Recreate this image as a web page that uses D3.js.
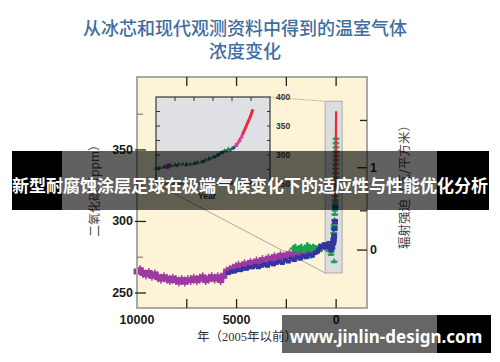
<!DOCTYPE html>
<html>
<head>
<meta charset="utf-8">
<script src="https://cdn.jsdelivr.net/npm/d3@7"></script>
<style>
  body { margin: 0; background: #fff; }
  svg { display: block; }
</style>
</head>
<body>
<svg id="chart" width="500" height="362"></svg>
<script>
// texts
const titleLines = ['从冰芯和现代观测资料中得到的温室气体', '浓度变化'];
const leftLabel = '二氧化碳（ppm）';
const rightLabel = '辐射强迫（瓦/平方米）';
const xLabel = '年（2005年以前）';
const bannerText = '新型耐腐蚀涂层足球在极端气候变化下的适应性与性能优化分析';
const watermarkText = 'www.jinlin-design.com';

// ticks
const xTicks = [10000, 5000, 0];
const xMinorTicks = [7500, 2500];
const yTicks = [250, 300, 350];
const yMinorTicks = [275, 325, 375];
const forcingTicks = [0, 1];
const forcingMinorTicks = [0.5, 1.5];
const insetYTicks = [250, 300, 350, 400];
const insetYMinor = [275, 300, 325, 350, 375];
const insetXTicks = [1800, 1850, 1900, 1950, 2000];

// main panel: [years before 2005, ppm]
const purpleCore = [
  [10000, 265], [9850, 266], [9700, 264], [9550, 263], [9400, 264], [9250, 262],
  [9100, 263], [8950, 261], [8800, 260], [8650, 261], [8500, 260], [8350, 259],
  [8200, 260], [8050, 259], [7900, 258], [7750, 259], [7600, 258], [7450, 259],
  [7300, 259], [7150, 260], [7000, 259], [6850, 260], [6700, 261], [6550, 259],
  [6400, 260], [6250, 261], [6100, 260], [5950, 261], [5800, 259], [5650, 262],
  [5500, 265], [5350, 266], [5200, 267], [5050, 268], [4900, 269], [4750, 268],
  [4600, 270], [4450, 269], [4300, 271], [4150, 270], [4000, 272], [3850, 271],
  [3700, 273], [3550, 272], [3400, 274], [3250, 273], [3100, 275], [2950, 274],
  [2800, 276], [2650, 275], [2500, 276], [2350, 277], [2200, 276], [2050, 278],
  [1900, 277], [1750, 278], [1600, 277], [1450, 279], [1300, 280], [1150, 279],
  [1000, 280], [850, 281]
];
const blueCore = [
  [5400, 264], [5250, 265], [5100, 265], [4950, 266], [4800, 266], [4650, 267],
  [4500, 267], [4350, 268], [4200, 268], [4050, 269], [3900, 268], [3750, 269],
  [3600, 270], [3450, 269], [3300, 271], [3150, 270], [3000, 271], [2850, 272],
  [2700, 271], [2550, 273], [2400, 272], [2250, 274], [2100, 273], [1950, 275],
  [1800, 274], [1650, 276], [1500, 275], [1350, 277], [1200, 276], [1050, 278],
  [950, 279], [850, 281], [750, 283], [650, 282], [600, 284], [550, 283],
  [500, 282], [450, 284], [400, 283], [350, 285], [300, 282], [250, 281]
];
const greenCore = [
  [2150, 281], [2050, 282], [1950, 280], [1850, 281], [1750, 282], [1650, 280],
  [1550, 281], [1450, 283], [1350, 282], [1250, 281], [1150, 282], [1050, 281],
  [950, 280], [850, 282], [750, 281], [650, 283], [550, 282], [450, 281]
];
const cyanCore = [[1300, 275], [1250, 276]];
const greenColumn = [
  [255, 277], [200, 281], [155, 285], [130, 288], [120, 292], [110, 295],
  [95, 297], [90, 298], [80, 301], [70, 305], [62, 308], [55, 311],
  [50, 313], [45, 315], [40, 318], [35, 322], [32, 325], [28, 328],
  [25, 331], [22, 334], [20, 337], [18, 340], [16, 343], [14, 346],
  [12, 349], [10, 352], [8, 355], [6, 358], [100, 272]
];
const blueColumn = [
  [250, 280], [200, 283], [150, 285], [120, 287], [100, 290], [80, 295],
  [60, 300], [40, 310]
];
const maunaLoa = [
  [47, 315], [45, 317], [40, 320], [35, 326], [30, 331], [25, 339],
  [20, 346], [15, 354], [10, 361], [5, 369], [0, 377]
];
const zoomYears = [550, -300];
const zoomPpm = [264, 384];

// inset: [year AD, ppm]
const insetGreen = [
  [1750, 277], [1760, 278], [1770, 279], [1780, 280], [1790, 281], [1800, 283],
  [1810, 284], [1820, 284], [1830, 284], [1840, 284], [1850, 285], [1860, 287],
  [1870, 288], [1880, 291], [1890, 294], [1900, 296], [1910, 299], [1920, 303],
  [1930, 307], [1940, 310], [1950, 311], [1960, 316], [1970, 325], [1975, 331]
];
const insetBlue = [
  [1755, 277], [1780, 279], [1805, 282], [1830, 283], [1855, 286], [1875, 289],
  [1890, 293], [1905, 297], [1915, 301], [1925, 305], [1935, 307], [1945, 309],
  [1955, 313], [1962, 318]
];
const insetPurple = [[1778, 280], [1784, 282]];
const insetPink = [[1958, 315], [1965, 320], [1970, 326], [1975, 331], [1980, 339]];
const insetRed = [
  [1978, 336], [1980, 339], [1985, 346], [1990, 354], [1995, 361], [2000, 369], [2005, 379]
];

const svg = d3.select('#chart');
const tickFont = '"Liberation Sans", Arial, sans-serif';
const cjkFont = '"Noto Sans CJK SC", sans-serif';

// scales
const x = d3.scaleLinear().domain([10000, -1550]).range([137, 367]);
const y = d3.scaleLinear().domain([239.5, 401]).range([308, 77]);
const forcingY = (f) => y(280 * Math.exp(f / 5.35));
const xi = d3.scaleLinear().domain([1750, 2050]).range([156, 270]);
const yi = d3.scaleLinear().domain([250, 400]).range([184, 97]);

svg.append('rect').attr('width', 500).attr('height', 362).attr('fill', '#fff');

//Title
svg.selectAll('.title')
  .data(titleLines)
  .join('text')
  .attr('class', 'title')
  .attr('x', 245)
  .attr('y', (d, i) => 27 + i * 23)
  .attr('text-anchor', 'middle')
  .attr('dominant-baseline', 'central')
  .style('font-family', cjkFont)
  .style('font-size', '18px')
  .style('font-weight', 500)
  .attr('fill', '#3f6e9f')
  .text((d) => d);

//Plot frame
svg.append('rect')
  .attr('x', x.range()[0]).attr('y', y.range()[1])
  .attr('width', x.range()[1] - x.range()[0])
  .attr('height', y.range()[0] - y.range()[1])
  .attr('fill', '#fdf3d6');

//Gray zoom box
const boxX0 = x(zoomYears[0]), boxX1 = x(zoomYears[1]);
const boxY0 = y(zoomPpm[1]), boxY1 = y(zoomPpm[0]);
svg.append('rect')
  .attr('x', boxX0).attr('y', boxY0)
  .attr('width', boxX1 - boxX0).attr('height', boxY1 - boxY0)
  .attr('fill', '#dcdde1').attr('stroke', '#b4b4b4').attr('stroke-width', 1.2);

//Connecting lines
svg.append('line')
  .attr('x1', xi.range()[0]).attr('y1', yi.range()[0])
  .attr('x2', boxX0).attr('y2', boxY1)
  .attr('stroke', '#a8a8a0').attr('stroke-width', 1);
svg.append('line')
  .attr('x1', xi.range()[1]).attr('y1', yi(400))
  .attr('x2', boxX0).attr('y2', boxY0)
  .attr('stroke', '#a8a8a0').attr('stroke-width', 1)
  .attr('stroke-dasharray', '1.5,1');

//Inset
svg.append('rect')
  .attr('x', xi.range()[0]).attr('y', yi.range()[1])
  .attr('width', xi.range()[1] - xi.range()[0])
  .attr('height', yi.range()[0] - yi.range()[1])
  .attr('fill', '#dfe0e3').attr('stroke', '#444').attr('stroke-width', 1.3);

svg.selectAll('.iytick')
  .data(insetYMinor)
  .join('line')
  .attr('class', 'iytick')
  .attr('x1', xi.range()[0]).attr('x2', xi.range()[0] + 4)
  .attr('y1', (d) => yi(d)).attr('y2', (d) => yi(d))
  .attr('stroke', '#333').attr('stroke-width', 1);

svg.selectAll('.iytickr')
  .data(insetYMinor)
  .join('line')
  .attr('class', 'iytickr')
  .attr('x1', xi.range()[1]).attr('x2', xi.range()[1] - 3)
  .attr('y1', (d) => yi(d)).attr('y2', (d) => yi(d))
  .attr('stroke', '#333').attr('stroke-width', 1);

svg.selectAll('.ixtick')
  .data(insetXTicks)
  .join('line')
  .attr('class', 'ixtick')
  .attr('x1', (d) => xi(d)).attr('x2', (d) => xi(d))
  .attr('y1', yi.range()[1]).attr('y2', yi.range()[1] + 4)
  .attr('stroke', '#333').attr('stroke-width', 1);

svg.selectAll('.ixtickb')
  .data(insetXTicks)
  .join('line')
  .attr('class', 'ixtickb')
  .attr('x1', (d) => xi(d)).attr('x2', (d) => xi(d))
  .attr('y1', yi.range()[0]).attr('y2', yi.range()[0] - 4)
  .attr('stroke', '#333').attr('stroke-width', 1);

svg.selectAll('.iylabel')
  .data(insetYTicks)
  .join('text')
  .attr('class', 'iylabel')
  .attr('x', xi.range()[1] + 6)
  .attr('y', (d) => yi(d))
  .attr('dominant-baseline', 'central')
  .style('font-family', tickFont)
  .style('font-size', '8.5px')
  .style('font-weight', 'bold')
  .attr('fill', '#333')
  .text((d) => d);

svg.append('text')
  .attr('x', 207).attr('y', 196)
  .attr('text-anchor', 'middle')
  .attr('dominant-baseline', 'central')
  .style('font-family', tickFont)
  .style('font-size', '8.5px')
  .style('font-weight', 'bold')
  .attr('fill', '#333')
  .text('Year');

const insetLine = d3.line().x((d) => xi(d[0])).y((d) => yi(d[1]));

svg.selectAll('.iblue')
  .data(insetBlue)
  .join('rect')
  .attr('class', 'iblue')
  .attr('x', (d) => xi(d[0]) - 1.5).attr('y', (d) => yi(d[1]) - 1.5)
  .attr('width', 3).attr('height', 3)
  .attr('fill', '#34349a');

svg.selectAll('.igreen')
  .data(insetGreen)
  .join('path')
  .attr('class', 'igreen')
  .attr('transform', (d) => `translate(${xi(d[0])},${yi(d[1])})`)
  .attr('d', d3.symbol(d3.symbolTriangle).size(9))
  .attr('fill', '#168c3e');

svg.selectAll('.ipurple')
  .data(insetPurple)
  .join('rect')
  .attr('class', 'ipurple')
  .attr('x', (d) => xi(d[0]) - 2).attr('y', (d) => yi(d[1]) - 2)
  .attr('width', 4).attr('height', 4)
  .attr('fill', '#8a3a9c');

svg.append('path')
  .datum(insetPink)
  .attr('d', insetLine)
  .attr('fill', 'none').attr('stroke', '#f03a9c').attr('stroke-width', 3);

svg.append('path')
  .datum(insetRed)
  .attr('d', insetLine)
  .attr('fill', 'none').attr('stroke', '#ea2a48').attr('stroke-width', 3);

//Main data
svg.selectAll('.purpleErr')
  .data(purpleCore)
  .join('line')
  .attr('class', 'purpleErr')
  .attr('x1', (d) => x(d[0])).attr('x2', (d) => x(d[0]))
  .attr('y1', (d) => y(d[1] + 3.5)).attr('y2', (d) => y(d[1] - 3.5))
  .attr('stroke', '#a044a8').attr('stroke-width', 1.5);

svg.selectAll('.purple')
  .data(purpleCore)
  .join('rect')
  .attr('class', 'purple')
  .attr('x', (d) => x(d[0]) - 3.5).attr('y', (d) => y(d[1]) - 3)
  .attr('width', 7).attr('height', 6)
  .attr('fill', '#9c3aa2');

svg.selectAll('.green')
  .data(greenCore)
  .join('path')
  .attr('class', 'green')
  .attr('transform', (d) => `translate(${x(d[0])},${y(d[1])})`)
  .attr('d', d3.symbol(d3.symbolCross).size(28))
  .attr('fill', '#1aa34e');

svg.selectAll('.cyan')
  .data(cyanCore)
  .join('rect')
  .attr('class', 'cyan')
  .attr('x', (d) => x(d[0]) - 2).attr('y', (d) => y(d[1]) - 1.5)
  .attr('width', 4).attr('height', 3)
  .attr('fill', '#2ab4f0');

svg.selectAll('.blueErr')
  .data(blueCore)
  .join('line')
  .attr('class', 'blueErr')
  .attr('x1', (d) => x(d[0]) - 3).attr('x2', (d) => x(d[0]) + 3)
  .attr('y1', (d) => y(d[1])).attr('y2', (d) => y(d[1]))
  .attr('stroke', '#3a3aa6').attr('stroke-width', 1.2);

svg.selectAll('.blue')
  .data(blueCore)
  .join('rect')
  .attr('class', 'blue')
  .attr('x', (d) => x(d[0]) - 2.5).attr('y', (d) => y(d[1]) - 2)
  .attr('width', 5).attr('height', 4)
  .attr('fill', '#3434a0');

svg.selectAll('.greenColErr')
  .data(greenColumn)
  .join('line')
  .attr('class', 'greenColErr')
  .attr('x1', (d) => x(d[0]) - 3.5).attr('x2', (d) => x(d[0]) + 3.5)
  .attr('y1', (d) => y(d[1])).attr('y2', (d) => y(d[1]))
  .attr('stroke', '#1aa34e').attr('stroke-width', 1.5);

svg.selectAll('.greenCol')
  .data(greenColumn)
  .join('path')
  .attr('class', 'greenCol')
  .attr('transform', (d) => `translate(${x(d[0])},${y(d[1])})`)
  .attr('d', d3.symbol(d3.symbolTriangle).size(16))
  .attr('fill', '#1aa34e');

svg.selectAll('.blueCol')
  .data(blueColumn)
  .join('rect')
  .attr('class', 'blueCol')
  .attr('x', (d) => x(d[0]) - 3).attr('y', (d) => y(d[1]) - 2.5)
  .attr('width', 6).attr('height', 5)
  .attr('fill', '#3434a0');

svg.append('path')
  .datum(maunaLoa)
  .attr('d', d3.line().x((d) => x(d[0])).y((d) => y(d[1])))
  .attr('fill', 'none').attr('stroke', '#e8283c').attr('stroke-width', 2.2);

//Frame border
svg.append('rect')
  .attr('x', x.range()[0]).attr('y', y.range()[1])
  .attr('width', x.range()[1] - x.range()[0])
  .attr('height', y.range()[0] - y.range()[1])
  .attr('fill', 'none').attr('stroke', '#a8a8a8').attr('stroke-width', 2);

//X ticks (top and bottom, inward)
const allXTicks = xMinorTicks.concat(xTicks.filter((d) => d !== 10000));
svg.selectAll('.xtickb')
  .data(allXTicks)
  .join('line')
  .attr('class', 'xtickb')
  .attr('x1', (d) => x(d)).attr('x2', (d) => x(d))
  .attr('y1', y.range()[0]).attr('y2', y.range()[0] - 9)
  .attr('stroke', '#222').attr('stroke-width', 1.3);

svg.selectAll('.xtickt')
  .data(allXTicks)
  .join('line')
  .attr('class', 'xtickt')
  .attr('x1', (d) => x(d)).attr('x2', (d) => x(d))
  .attr('y1', y.range()[1]).attr('y2', y.range()[1] + 9)
  .attr('stroke', '#222').attr('stroke-width', 1.3);

svg.selectAll('.xlabel')
  .data(xTicks)
  .join('text')
  .attr('class', 'xlabel')
  .attr('x', (d) => x(d))
  .attr('y', 324)
  .attr('text-anchor', 'middle')
  .style('font-family', tickFont)
  .style('font-size', '12.5px')
  .style('font-weight', 'bold')
  .attr('fill', '#1a1a1a')
  .text((d) => d);

//Left ticks
svg.selectAll('.ytick')
  .data(yTicks)
  .join('line')
  .attr('class', 'ytick')
  .attr('x1', x.range()[0] - 2).attr('x2', x.range()[0] + 9)
  .attr('y1', (d) => y(d)).attr('y2', (d) => y(d))
  .attr('stroke', '#222').attr('stroke-width', 1.3);

svg.selectAll('.ytickm')
  .data(yMinorTicks)
  .join('line')
  .attr('class', 'ytickm')
  .attr('x1', x.range()[0]).attr('x2', x.range()[0] + 6)
  .attr('y1', (d) => y(d)).attr('y2', (d) => y(d))
  .attr('stroke', '#888').attr('stroke-width', 1.3);

svg.selectAll('.ylabel')
  .data(yTicks)
  .join('text')
  .attr('class', 'ylabel')
  .attr('x', 133)
  .attr('y', (d) => y(d))
  .attr('text-anchor', 'end')
  .attr('dominant-baseline', 'central')
  .style('font-family', tickFont)
  .style('font-size', '12.5px')
  .style('font-weight', 'bold')
  .attr('fill', '#1a1a1a')
  .text((d) => d);

//Right ticks (radiative forcing)
svg.selectAll('.rtick')
  .data(forcingTicks)
  .join('line')
  .attr('class', 'rtick')
  .attr('x1', x.range()[1] - 10).attr('x2', x.range()[1])
  .attr('y1', (d) => forcingY(d)).attr('y2', (d) => forcingY(d))
  .attr('stroke', '#222').attr('stroke-width', 1.3);

svg.selectAll('.rtickm')
  .data(forcingMinorTicks)
  .join('line')
  .attr('class', 'rtickm')
  .attr('x1', x.range()[1] - 7).attr('x2', x.range()[1])
  .attr('y1', (d) => forcingY(d)).attr('y2', (d) => forcingY(d))
  .attr('stroke', '#222').attr('stroke-width', 1.3);

svg.selectAll('.rlabel')
  .data(forcingTicks)
  .join('text')
  .attr('class', 'rlabel')
  .attr('x', 370)
  .attr('y', (d) => forcingY(d))
  .attr('dominant-baseline', 'central')
  .style('font-family', tickFont)
  .style('font-size', '12.5px')
  .style('font-weight', 'bold')
  .attr('fill', '#1a1a1a')
  .text((d) => d);

//Axis titles
svg.append('text')
  .attr('transform', 'translate(93,188) rotate(-90)')
  .attr('text-anchor', 'middle')
  .attr('dominant-baseline', 'central')
  .style('font-family', cjkFont)
  .style('font-size', '12px')
  .attr('fill', '#444')
  .text(leftLabel);

svg.append('text')
  .attr('transform', 'translate(403,184) rotate(-90)')
  .attr('text-anchor', 'middle')
  .attr('dominant-baseline', 'central')
  .style('font-family', cjkFont)
  .style('font-size', '12.5px')
  .attr('fill', '#444')
  .text(rightLabel);

svg.append('text')
  .attr('x', 247).attr('y', 337)
  .attr('text-anchor', 'middle')
  .attr('dominant-baseline', 'central')
  .style('font-family', '"Liberation Serif", "Noto Sans CJK SC", serif')
  .style('font-size', '12.5px')
  .attr('fill', '#333')
  .text(xLabel);

//Banner over the picture
svg.append('rect').attr('x', 12).attr('y', 151).attr('width', 50).attr('height', 59).attr('fill', '#000');
svg.append('rect').attr('x', 62).attr('y', 151).attr('width', 375).attr('height', 59).attr('fill', 'rgba(0,0,0,0.62)');
svg.append('rect').attr('x', 437).attr('y', 151).attr('width', 52).attr('height', 59).attr('fill', '#000');
svg.append('text')
  .attr('x', 250).attr('y', 184)
  .attr('text-anchor', 'middle')
  .attr('dominant-baseline', 'central')
  .style('font-family', cjkFont)
  .style('font-size', '17px')
  .style('font-weight', 'bold')
  .attr('fill', '#fff')
  .text(bannerText);

//Watermark
svg.append('rect').attr('x', 282).attr('y', 315).attr('width', 155).attr('height', 38).attr('fill', 'rgba(0,0,0,0.6)');
svg.append('rect').attr('x', 437).attr('y', 315).attr('width', 54).attr('height', 38).attr('fill', '#000');
svg.append('text')
  .attr('x', 386).attr('y', 336)
  .attr('text-anchor', 'middle')
  .attr('dominant-baseline', 'central')
  .style('font-family', '"Noto Sans", "Open Sans", sans-serif')
  .style('font-size', '17px')
  .style('font-weight', 'bold')
  .attr('fill', '#fff')
  .text(watermarkText);
</script>
</body>
</html>
